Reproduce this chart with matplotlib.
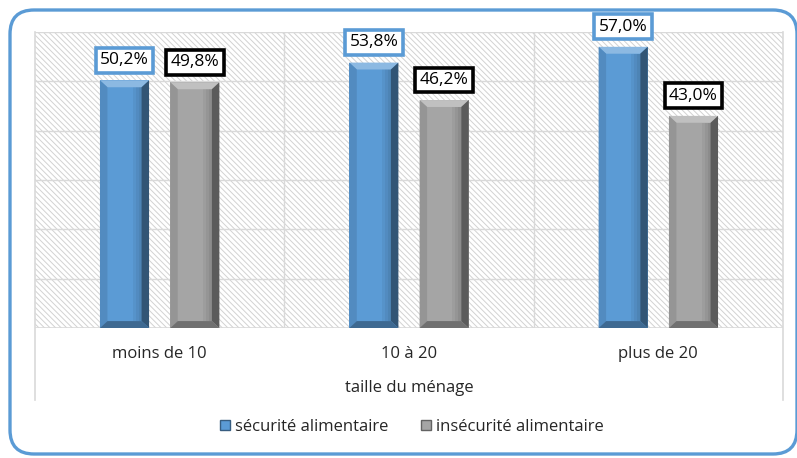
import matplotlib
matplotlib.use("Agg")
import matplotlib.pyplot as plt
from matplotlib.patches import Polygon, Rectangle, FancyBboxPatch
from matplotlib.transforms import IdentityTransform

categories = ["moins de 10", "10 à 20", "plus de 20"]
securite = [50.2, 53.8, 57.0]
insecurite = [49.8, 46.2, 43.0]
series_names = ["sécurité alimentaire", "insécurité alimentaire"]

BLUE = "#5b9bd5"
GREY = "#a5a5a5"
GRID = "#d9d9d9"
TEXT = "#262626"

plt.rcParams["font.family"] = ["Open Sans", "DejaVu Sans"]
plt.rcParams["hatch.linewidth"] = 0.7
plt.rcParams["hatch.color"] = "#d2d2d2"

fig = plt.figure(figsize=(7.97, 4.58), dpi=100)
ax = fig.add_axes([35 / 797, 130 / 458, 748 / 797, 296 / 458])
ax.set_xlim(-0.5, 2.5)
ax.set_ylim(0, 60)

# hatched plot background
ax.add_patch(Rectangle((0, 0), 1, 1, transform=ax.transAxes, facecolor="white",
                       edgecolor="#d2d2d2", hatch="\\" * 6, lw=0, zorder=0))

for y in range(10, 61, 10):
    ax.axhline(y, color=GRID, lw=1, zorder=1)
for x in [0.5, 1.5]:
    ax.axvline(x, color=GRID, lw=1, zorder=1)
ax.axhline(0, color=GRID, lw=1.2, zorder=1)
# outer category-axis lines reach down past the labels
for x in [-0.5, 2.5]:
    ax.plot([x, x], [1, -0.243], color=GRID, lw=1.2, transform=ax.get_xaxis_transform(),
            clip_on=False, zorder=1)

for s in ax.spines.values():
    s.set_visible(False)
ax.set_yticks([])
ax.set_xticks(range(len(categories)))
ax.set_xticklabels(categories, fontsize=12, color=TEXT)
ax.tick_params(axis="x", length=0, pad=13)
ax.set_xlabel("taille du ménage", fontsize=12, color=TEXT, labelpad=13)


def shade(c, f):
    r, g, b = matplotlib.colors.to_rgb(c)
    if f < 1:
        return (r * f, g * f, b * f)
    f = f - 1
    return (r + (1 - r) * f, g + (1 - g) * f, b + (1 - b) * f)


def bevel_bar(x0, x1, h, color):
    bx, by = 0.03, 1.4
    ax.add_patch(Rectangle((x0, 0), x1 - x0, h, facecolor=color, edgecolor="none", zorder=3))
    # stepped shading just inside the right bevel
    for k, f in enumerate([0.95, 0.9, 0.85]):
        ax.add_patch(Rectangle((x1 - bx - (3 - k) * 0.4 * bx, by), 0.4 * bx, h - 2 * by,
                               facecolor=shade(color, f), edgecolor="none", zorder=3))
    ax.add_patch(Polygon([(x0, h), (x1, h), (x1 - bx, h - by), (x0 + bx, h - by)],
                         facecolor=shade(color, 1.3), edgecolor="none", zorder=4))
    ax.add_patch(Polygon([(x1, h), (x1, 0), (x1 - bx, by), (x1 - bx, h - by)],
                         facecolor=shade(color, 0.55), edgecolor="none", zorder=4))
    ax.add_patch(Polygon([(x0, h), (x0 + bx, h - by), (x0 + bx, by), (x0, 0)],
                         facecolor=shade(color, 0.9), edgecolor="none", zorder=4))
    ax.add_patch(Polygon([(x0, 0), (x1, 0), (x1 - bx, by), (x0 + bx, by)],
                         facecolor=shade(color, 0.68), edgecolor="none", zorder=4))


width = 0.197
offset = 0.141
for i in range(len(categories)):
    for vals, off, col, edge in [(securite, -offset, BLUE, BLUE), (insecurite, offset, GREY, "black")]:
        xc = i + off
        v = vals[i]
        bevel_bar(xc - width / 2, xc + width / 2, v, col)
        ax.annotate(f"{v:.1f}%".replace(".", ","), (xc, v), xytext=(0, 14.5), textcoords="offset points",
                    ha="center", va="center", fontsize=12.5, color="black", zorder=6,
                    bbox=dict(boxstyle="square,pad=0.25", facecolor="white", edgecolor=edge, lw=2.6))

handles = [Rectangle((0, 0), 1, 1, facecolor=BLUE, edgecolor=shade(BLUE, 0.6)),
           Rectangle((0, 0), 1, 1, facecolor=GREY, edgecolor=shade(GREY, 0.6))]
fig.legend(handles, series_names, loc="center", bbox_to_anchor=(412 / 797, 31 / 458), ncol=2,
           frameon=False, fontsize=12, handlelength=0.6, handleheight=0.6, handletextpad=0.3,
           columnspacing=2.0, labelcolor=TEXT)

# rounded outer frame
fig.patches.append(FancyBboxPatch((10, 4), 787, 444, boxstyle="round,pad=0,rounding_size=24",
                                  transform=IdentityTransform(), facecolor="none",
                                  edgecolor=BLUE, lw=2.4, figure=fig))

fig.savefig("out.png", dpi=100)
